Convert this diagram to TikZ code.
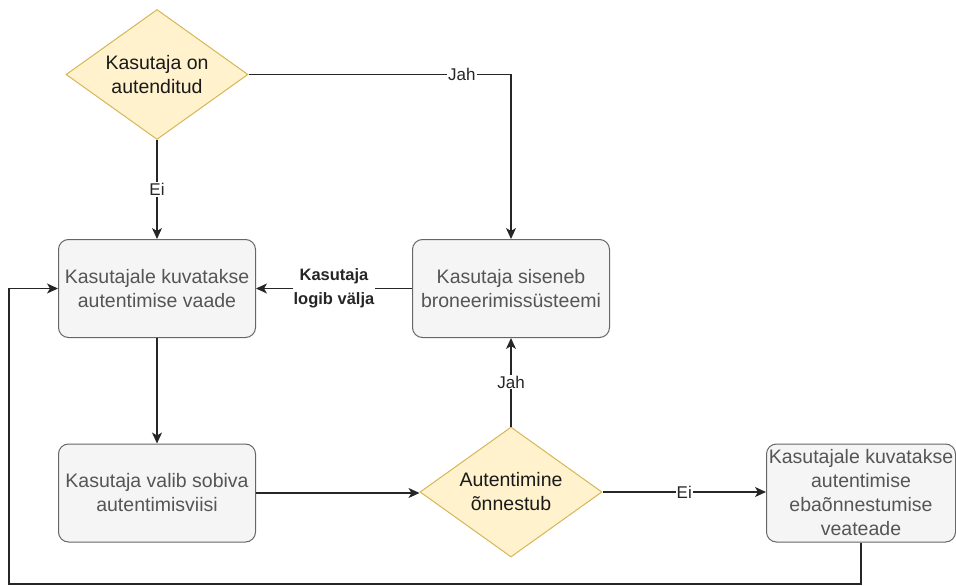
\documentclass[tikz,border=0pt]{standalone}
\usepackage{fontspec}
\setmainfont{Liberation Sans}
\usetikzlibrary{shapes.geometric,arrows.meta}
\definecolor{boxfill}{HTML}{F5F5F5}
\definecolor{boxline}{HTML}{666666}
\definecolor{boxtext}{HTML}{555555}
\definecolor{dfill}{HTML}{FFF2CC}
\definecolor{dline}{HTML}{D6B656}
\definecolor{dtext}{HTML}{1A1A1A}
\tikzset{
  stepbox/.style={draw=boxline, fill=boxfill, rounded corners=10pt, line width=1pt,
    minimum width=197pt, minimum height=98pt, inner sep=0pt, align=center,
    text=boxtext, font=\fontsize{19.5}{24}\selectfont},
  decide/.style={diamond, aspect=1.4, draw=dline, fill=dfill, line width=1pt, inner sep=0pt,
    minimum width=182pt, minimum height=130pt, align=center, text=dtext,
    font=\fontsize{19.5}{24}\selectfont},
  conn/.style={draw=black!85, line width=1.2pt, -{Stealth[length=11pt,width=10pt,inset=3pt]}},
  lbl/.style={fill=white, inner sep=1pt, text=black!85, font=\fontsize{17}{22}\selectfont, align=center},
}
\begin{document}
\begin{tikzpicture}[x=1pt,y=-1pt]
\useasboundingbox (0,0) rectangle (956,586);
\node[decide] (d1) at (157,74.5) {Kasutaja on\\autenditud};
\node[stepbox] (b1) at (157,288.5) {Kasutajale kuvatakse\\autentimise vaade};
\node[stepbox] (b2) at (511,288.5) {Kasutaja siseneb\\broneerimissüsteemi};
\node[stepbox] (b3) at (157,493) {Kasutaja valib sobiva\\autentimisviisi};
\node[decide] (d2) at (511,492) {Autentimine\\õnnestub};
\node[stepbox, minimum width=189pt] (b4) at (861,493) {Kasutajale kuvatakse\\autentimise\\ebaõnnestumise\\veateade};
\coordinate (c1) at (861,584);
\coordinate (c2) at (9,584);
\coordinate (c3) at (9,288.5);

\draw[conn] (d1.south) -- node[lbl]{Ei} (b1.north);
\draw[conn] (d1.east) -- node[lbl,pos=0.813]{Jah} (d1.east -| b2.north) -- (b2.north);
\draw[conn] (b2.west) -- node[lbl,font=\bfseries\fontsize{16.5}{24}\selectfont]{Kasutaja\\logib välja} (b1.east);
\draw[conn] (b1.south) -- (b3.north);
\draw[conn] (b3.east) -- (b3.east -| d2.west);
\draw[conn] (d2.north) -- node[lbl]{Jah} (b2.south);
\draw[conn] (d2.east) -- node[lbl]{Ei} (d2.east -| b4.west);
\draw[conn, rounded corners=0pt] (b4.south) -- (c1) -- (c2) -- (c3) -- (b1.west);
\end{tikzpicture}
\end{document}
